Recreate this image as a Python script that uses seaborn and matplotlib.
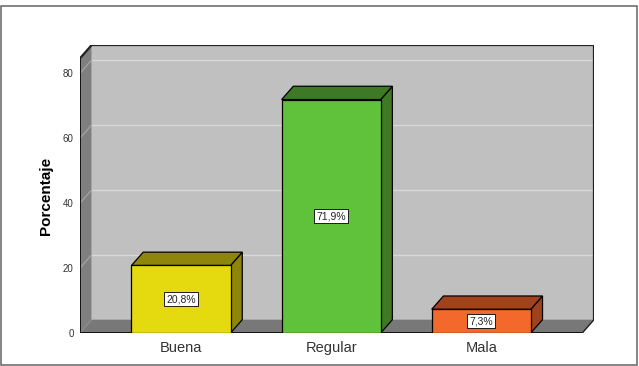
import matplotlib
matplotlib.use("Agg")
import matplotlib.pyplot as plt
import seaborn as sns
from matplotlib.patches import Polygon, Rectangle

categories = ["Buena", "Regular", "Mala"]
values = [20.8, 71.9, 7.3]
labels = ["20,8%", "71,9%", "7,3%"]
front_colors = ["#e5d910", "#5fc23a", "#f2692b"]
dark_colors = ["#8e850b", "#3e7a25", "#a0431d"]
yticks = [0, 20, 40, 60, 80]

sns.set_theme(style="white")
plt.rcParams["font.family"] = ["Liberation Sans", "DejaVu Sans"]

W, H = 639, 366
fig = plt.figure(figsize=(W / 100, H / 100), dpi=100)
ax = fig.add_axes([80 / W, (H - 333) / H, (594 - 80) / W, (333 - 45) / H])

DX, DY = 0.078, 4.1
XL, XR = -0.673, 2.673
YTOP = 84.6

sns.barplot(x=categories, y=values, hue=categories, palette=front_colors,
            saturation=1, width=0.66, ax=ax, edgecolor="black", linewidth=0.9,
            legend=False, zorder=5)
bars = [p for p in ax.patches if isinstance(p, Rectangle)]

ax.set_xlim(XL, XR + DX)
ax.set_ylim(0, YTOP + DY)

# back wall
ax.add_patch(Rectangle((XL + DX, DY), XR - XL, YTOP, facecolor="#c0c0c0",
                       edgecolor="none", zorder=0))
# left wall
ax.add_patch(Polygon([(XL, 0), (XL + DX, DY), (XL + DX, YTOP + DY), (XL, YTOP)],
                     closed=True, facecolor="#7f7f7f", edgecolor="none", zorder=1))
# floor
ax.add_patch(Polygon([(XL, 0), (XR, 0), (XR + DX, DY), (XL + DX, DY)],
                     closed=True, facecolor="#787878", edgecolor="none", zorder=1))
# grid lines
for v in yticks[1:]:
    ax.plot([XL + DX, XR + DX], [v + DY, v + DY], color="#d9d9d9", lw=1, zorder=0.5)
    ax.plot([XL, XL + DX], [v, v + DY], color="#a8a8a8", lw=0.8, zorder=1.5)
# outlines
ax.plot([XL, XR], [0, 0], color="black", lw=1.2, zorder=3)
ax.plot([XL, XL], [0, YTOP], color="black", lw=1.2, zorder=3)
ax.plot([XL, XL + DX, XR + DX, XR + DX], [YTOP, YTOP + DY, YTOP + DY, DY],
        color="#202020", lw=1.6, zorder=3, solid_joinstyle="miter")
ax.plot([XR, XR + DX], [0, DY], color="#202020", lw=1.0, zorder=3)

# 3D faces of bars
for p, dc, lab in zip(bars, dark_colors, labels):
    x0 = p.get_x()
    x1 = x0 + p.get_width()
    h = p.get_height()
    side = Polygon([(x1, 0), (x1 + DX, DY), (x1 + DX, h + DY), (x1, h)], closed=True,
                   facecolor=dc, edgecolor="black", lw=0.9, zorder=4)
    top = Polygon([(x0, h), (x0 + DX, h + DY), (x1 + DX, h + DY), (x1, h)], closed=True,
                  facecolor=dc, edgecolor="black", lw=0.9, zorder=4)
    ax.add_patch(side)
    ax.add_patch(top)
    ax.text((x0 + x1) / 2, h / 2, lab, ha="center", va="center", fontsize=7.5,
            color="#222222", zorder=7,
            bbox=dict(boxstyle="square,pad=0.2", facecolor="white",
                      edgecolor="black", lw=0.6))

ax.set_yticks(yticks)
ax.set_yticklabels([str(t) for t in yticks], fontsize=7, color="#333333")
ax.tick_params(axis="y", length=0, pad=4.5)
ax.tick_params(axis="x", length=0, pad=6, labelsize=10.5, labelcolor="#333333")
ax.set_xlabel("")
ax.set_ylabel("Porcentaje", fontsize=11, fontweight="bold", color="black")
ax.yaxis.set_label_coords(-0.052, 0.476)
for s in ax.spines.values():
    s.set_visible(False)
ax.patch.set_alpha(0)

# outer frame
fig.patches.append(Rectangle((1 / W, 1 / H), (W - 3) / W, (H - 7) / H,
                             transform=fig.transFigure, fill=False,
                             edgecolor="#707070", lw=1.2))

fig.savefig("out.png", dpi=100)
